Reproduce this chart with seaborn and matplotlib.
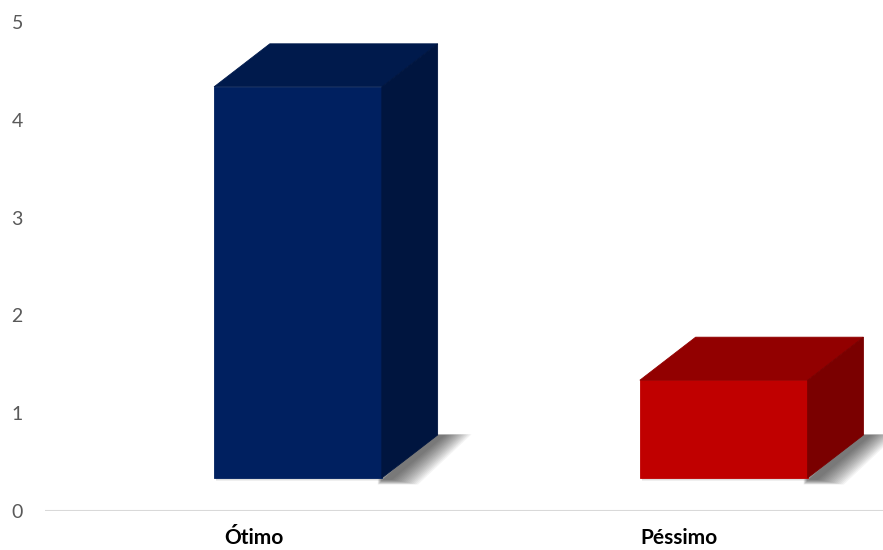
import seaborn as sns
import pandas as pd
import matplotlib.pyplot as plt
from matplotlib.patches import Polygon

# dados do grafico
categorias = ["Ótimo", "Péssimo"]
valores = [4, 1]
cores_frente = ["#002060", "#C00000"]
cores_topo = ["#001a4c", "#920000"]
cores_lado = ["#00153f", "#7a0000"]

sns.set_theme(style="white")
plt.rcParams['font.family'] = ['Lato', 'DejaVu Sans']

fig = plt.figure(figsize=(8.83, 5.5), dpi=100)
ax = fig.add_axes([0.051, 0.071, 0.949, 0.889])

df = pd.DataFrame({"categoria": categorias, "valor": valores})
sns.barplot(data=df, x="categoria", y="valor", hue="categoria",
            palette=cores_frente, width=0.394, legend=False, ax=ax,
            saturation=1, linewidth=0, zorder=3)

base = 0.337   # piso 3D fica acima do zero
desloc = 0.104  # barra frontal deslocada para a direita
dx, dy = 0.131, 0.44  # profundidade

barras = sorted(ax.patches, key=lambda p: p.get_x())
for i, p in enumerate(barras):
    x0 = p.get_x() + desloc
    w = p.get_width()
    h = p.get_height()
    p.set_x(x0)
    p.set_y(base)
    p.set_edgecolor(cores_frente[i])
    p.set_linewidth(0.6)
    x1 = x0 + w
    y0 = base
    y1 = base + h
    # sombra no chao (varias camadas finas para imitar o desfoque)
    n = 16
    for k in range(n):
        e = 0.065 * (n - k) / n
        ey = e * 0.8
        sombra = Polygon([(x1 - 0.01, y0 - 0.015 - ey), (x1 + dx - 0.01, y0 + dy + ey * 0.15),
                          (x1 + dx + 0.015 + e, y0 + dy + ey * 0.15), (x1 + 0.02 + e, y0 - 0.015 - ey)],
                         closed=True, facecolor="#000000", alpha=0.045, lw=0, zorder=1)
        ax.add_patch(sombra)
    for k in range(6):
        e = 0.035 * (6 - k) / 6
        sombra = Polygon([(x0 + 0.005, y0), (x1, y0), (x1, y0 - e), (x0 + 0.005, y0 - e)],
                         closed=True, facecolor="#000000", alpha=0.03, lw=0, zorder=1)
        ax.add_patch(sombra)
    topo = Polygon([(x0, y1), (x0 + dx, y1 + dy), (x1 + dx, y1 + dy), (x1, y1)],
                   closed=True, facecolor=cores_topo[i], edgecolor=cores_topo[i], lw=0.6, zorder=4)
    lado = Polygon([(x1, y0), (x1 + dx, y0 + dy), (x1 + dx, y1 + dy), (x1, y1)],
                   closed=True, facecolor=cores_lado[i], edgecolor=cores_lado[i], lw=0.6, zorder=4)
    ax.add_patch(topo)
    ax.add_patch(lado)

ax.set_xlim(-0.49, 1.478)
ax.set_ylim(0, 5)
ax.set_yticks([0, 1, 2, 3, 4, 5])
ax.axhline(0, color="#d9d9d9", lw=1.5, zorder=2)
for s in ax.spines.values():
    s.set_visible(False)
ax.set_xlabel("")
ax.set_ylabel("")
ax.tick_params(axis="y", length=0, pad=16, labelsize=14, labelcolor="#595959")
ax.tick_params(axis="x", length=0, pad=12, labelsize=15, labelcolor="#000000")
for t in ax.get_xticklabels():
    t.set_fontweight("bold")

fig.savefig("out.png", dpi=100)
